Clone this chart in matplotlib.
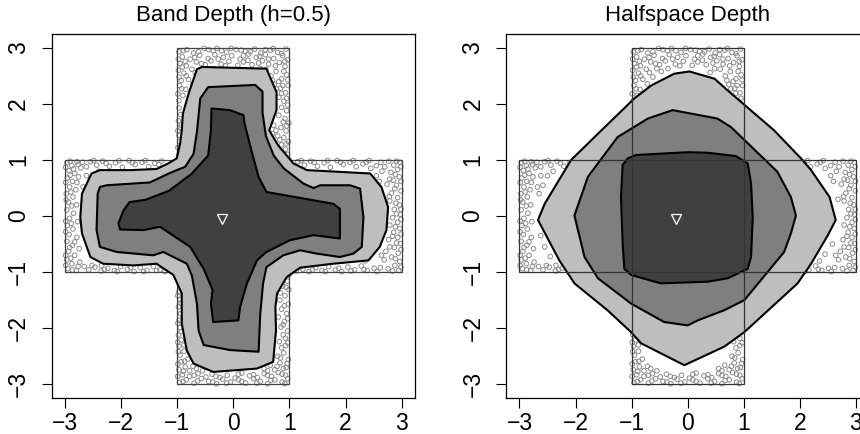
import numpy as np
import matplotlib.pyplot as plt
from matplotlib.patches import Polygon

plt.rcParams['font.family'] = ['Liberation Sans', 'DejaVu Sans']

ticks = [-3, -2, -1, 0, 1, 2, 3]
titles = ['Band Depth (h=0.5)', 'Halfspace Depth']
median_pt = (-0.21, -0.05)

# outline of the cross-shaped support
cross = [(-1, 1), (-1, 3), (1, 3), (1, 1), (3, 1), (3, -1), (1, -1), (1, -3),
         (-1, -3), (-1, -1), (-3, -1), (-3, 1)]
rect_v = [(-1, -3), (1, -3), (1, 3), (-1, 3)]
rect_h = [(-3, -1), (3, -1), (3, 1), (-3, 1)]

# band depth regions (outer -> inner)
band_outer = [(-0.80, 2.18), (-0.90, 1.83), (-0.92, 1.53), (-0.95, 1.29), (-1.01, 1.03),
              (-1.16, 0.94), (-1.37, 0.84), (-1.84, 0.82), (-2.38, 0.82), (-2.53, 0.76),
              (-2.70, 0.40), (-2.73, -0.02), (-2.70, -0.31), (-2.55, -0.73), (-2.32, -0.85),
              (-1.78, -0.88), (-1.37, -0.85), (-1.19, -0.97), (-1.07, -1.05), (-0.92, -1.38),
              (-0.92, -1.92), (-0.83, -2.40), (-0.71, -2.63), (-0.36, -2.78), (0.42, -2.72),
              (0.71, -2.60), (0.76, -2.04), (0.75, -1.62), (0.78, -1.38), (0.95, -1.09),
              (1.19, -0.92), (1.78, -0.85), (2.41, -0.79), (2.61, -0.55), (2.73, -0.25),
              (2.76, 0.16), (2.64, 0.52), (2.44, 0.76), (1.31, 0.82), (1.07, 0.94),
              (0.80, 1.26), (0.64, 1.53), (0.77, 1.89), (0.77, 2.21), (0.59, 2.63),
              (-0.56, 2.66), (-0.65, 2.62)]
band_mid = [(-0.45, 2.30), (0.39, 2.34), (0.52, 2.22), (0.52, 1.85), (0.58, 1.43),
            (0.72, 1.08), (0.90, 0.85), (1.25, 0.58), (1.43, 0.50), (1.55, 0.55),
            (2.08, 0.55), (2.26, 0.49), (2.32, -0.02), (2.29, -0.55), (2.14, -0.67),
            (1.90, -0.73), (1.49, -0.67), (1.19, -0.61), (0.89, -0.70), (0.59, -0.91),
            (0.53, -1.20), (0.48, -1.74), (0.45, -2.42), (-0.06, -2.39), (-0.53, -2.30),
            (-0.62, -2.04), (-0.65, -1.56), (-0.74, -1.06), (-0.83, -0.85), (-1.25, -0.64),
            (-1.43, -0.70), (-2.08, -0.64), (-2.38, -0.55), (-2.44, -0.25), (-2.42, 0.40),
            (-2.38, 0.52), (-2.26, 0.55), (-1.49, 0.60), (-1.13, 0.77), (-0.86, 0.88),
            (-0.71, 1.11), (-0.65, 1.50), (-0.59, 2.10)]
band_inner = [(-0.39, 1.92), (-0.06, 1.89), (0.18, 1.80), (0.20, 1.65), (0.33, 1.14),
              (0.45, 0.70), (0.59, 0.43), (1.78, 0.22), (1.90, 0.13), (1.90, -0.40),
              (1.43, -0.34), (1.01, -0.43), (0.59, -0.64), (0.42, -0.79), (0.24, -1.21),
              (0.12, -1.62), (0.09, -1.86), (-0.36, -1.89), (-0.40, -1.56), (-0.37, -1.32),
              (-0.53, -0.94), (-0.77, -0.55), (-1.31, -0.19), (-1.60, -0.25), (-2.02, -0.24),
              (-2.05, -0.13), (-1.96, 0.10), (-1.85, 0.25), (-1.57, 0.29), (-1.15, 0.45),
              (-0.75, 0.75), (-0.45, 1.08), (-0.40, 1.53)]

# halfspace depth regions (outer -> inner)
half_outer = [(0.03, 2.58), (0.48, 2.45), (0.68, 2.27), (1.54, 1.53), (2.02, 1.03),
              (2.20, 0.82), (2.53, 0.34), (2.64, -0.07), (2.50, -0.34), (2.20, -0.85),
              (1.96, -1.20), (1.01, -2.07), (0.65, -2.33), (-0.06, -2.66), (-0.83, -2.27),
              (-1.01, -2.07), (-1.43, -1.68), (-2.02, -1.20), (-2.29, -0.79), (-2.67, -0.07),
              (-2.55, 0.22), (-2.08, 1.00), (-1.60, 1.47), (-0.95, 2.10), (-0.65, 2.33),
              (-0.24, 2.54)]
half_mid = [(-0.27, 1.89), (0.53, 1.74), (0.77, 1.59), (1.60, 0.79), (1.84, 0.34),
            (1.93, 0.01), (1.84, -0.31), (1.72, -0.64), (1.01, -1.50), (0.65, -1.68),
            (0.18, -1.86), (0.00, -1.95), (-0.42, -1.89), (-1.01, -1.56), (-1.60, -1.11),
            (-1.84, -0.73), (-2.02, 0.01), (-1.78, 0.70), (-1.25, 1.41), (-0.71, 1.74)]
half_inner = [(-0.92, 1.09), (0.00, 1.14), (0.36, 1.13), (0.86, 1.07), (1.07, 0.94),
              (1.13, 0.58), (1.16, -0.02), (1.13, -0.73), (1.07, -0.94), (0.71, -1.11),
              (0.36, -1.17), (-0.48, -1.20), (-1.01, -1.05), (-1.13, -0.94), (-1.16, -0.49),
              (-1.19, 0.34), (-1.16, 0.91), (-1.07, 1.03)]

# sample points (only the parts left uncovered by the regions)
points = [
    # top arm
    (-0.97, 2.93), (-0.83, 2.97), (-0.71, 2.91), (-0.52, 2.99), (-0.36, 2.95), (-0.29, 2.99),
    (-0.12, 2.92), (0.05, 2.97), (0.21, 2.94), (0.38, 2.98), (0.49, 2.91), (0.66, 2.96),
    (0.79, 2.92), (0.94, 2.98), (-0.91, 2.84), (-0.77, 2.80), (-0.60, 2.87), (-0.45, 2.81),
    (-0.33, 2.88), (-0.18, 2.83), (-0.03, 2.86), (0.12, 2.80), (0.27, 2.89), (0.41, 2.83),
    (0.57, 2.88), (0.72, 2.81), (0.88, 2.86), (0.97, 2.79), (-0.95, 2.72), (-0.84, 2.68),
    (-0.66, 2.75), (-0.50, 2.70), (-0.40, 2.77), (-0.22, 2.71), (-0.08, 2.76), (0.08, 2.69),
    (0.18, 2.75), (0.33, 2.70), (0.52, 2.77), (0.63, 2.71), (0.82, 2.74), (0.92, 2.67),
    (-0.98, 2.60), (-0.88, 2.55), (-0.74, 2.62), (-0.62, 2.48), (-0.47, 2.58), (-0.35, 2.63),
    (-0.80, 2.44), (-0.93, 2.42), (0.40, 2.56), (0.58, 2.62), (0.67, 2.50), (0.76, 2.58),
    (0.86, 2.45), (0.95, 2.52), (0.81, 2.40), (-0.96, 2.33), (-0.85, 2.26), (-0.72, 2.36),
    (-0.90, 2.15), (-0.97, 2.06), (0.73, 2.35), (0.84, 2.28), (0.93, 2.20), (0.98, 2.33),
    (0.81, 2.12), (0.90, 2.05), (0.97, 1.98), (-0.97, 1.93), (-0.94, 1.81), (-0.98, 1.70),
    (-0.95, 1.58), (-0.97, 1.44), (-0.96, 1.33), (-0.99, 1.22), (-0.97, 1.10), (0.86, 1.94),
    (0.95, 1.88), (0.81, 1.80), (0.92, 1.74), (0.99, 1.66), (0.72, 1.62), (0.85, 1.58),
    (0.94, 1.52), (0.70, 1.47), (0.79, 1.43), (0.90, 1.40), (0.98, 1.33), (0.86, 1.27),
    (0.93, 1.19), (0.97, 1.10), (0.91, 1.04), (0.99, 1.01),
    (-0.89, 2.95), (-0.62, 2.93), (-0.44, 2.97), (-0.21, 2.95), (-0.04, 2.99), (0.14, 2.96),
    (0.30, 2.93), (0.57, 2.97), (0.71, 2.99), (0.86, 2.90), (-0.98, 2.80), (-0.69, 2.83),
    (-0.27, 2.80), (0.18, 2.86), (0.47, 2.85), (0.63, 2.80), (0.92, 2.76), (-0.86, 2.76),
    (-0.57, 2.72), (-0.14, 2.68), (0.26, 2.78), (0.45, 2.73), (0.75, 2.68), (-0.91, 2.66),
    (-0.68, 2.56), (-0.55, 2.63), (-0.84, 2.50), (-0.97, 2.48), (0.48, 2.63), (0.70, 2.42),
    (0.90, 2.58), (0.97, 2.43), (0.88, 2.33), (0.77, 2.27), (0.95, 2.10), (0.86, 2.19),
    (-0.92, 2.27), (-0.99, 2.18), (-0.93, 1.62), (-0.99, 1.52), (0.89, 1.68), (0.76, 1.53),
    (0.95, 1.61), (0.83, 1.36), (0.94, 1.29), (0.90, 1.12),
    # bottom arm
    (-0.96, -2.97), (-0.84, -2.92), (-0.70, -2.98), (-0.57, -2.90), (-0.44, -2.95), (-0.30, -2.99),
    (-0.19, -2.91), (-0.05, -2.96), (0.09, -2.92), (0.22, -2.98), (0.36, -2.90), (0.48, -2.95),
    (0.61, -2.99), (0.74, -2.92), (0.87, -2.96), (0.97, -2.90), (-0.91, -2.83), (-0.78, -2.86),
    (-0.63, -2.81), (-0.49, -2.87), (-0.38, -2.82), (-0.24, -2.88), (-0.11, -2.84), (0.03, -2.89),
    (0.15, -2.80), (0.29, -2.85), (0.43, -2.88), (0.55, -2.81), (0.68, -2.86), (0.80, -2.79),
    (0.93, -2.84), (-0.97, -2.74), (-0.86, -2.69), (-0.78, -2.76), (-0.93, -2.60), (-0.81, -2.55),
    (-0.66, -2.72), (-0.55, -2.76), (-0.95, -2.48), (-0.88, -2.41), (0.55, -2.72), (0.66, -2.66),
    (0.74, -2.74), (0.83, -2.62), (0.94, -2.70), (0.79, -2.50), (0.90, -2.44), (0.98, -2.56),
    (0.86, -2.35), (-0.97, -2.32), (-0.93, -2.21), (-0.98, -2.12), (-0.95, -1.99), (-0.97, -1.86),
    (-0.94, -1.74), (-0.98, -1.62), (-0.95, -1.49), (-0.97, -1.35), (-0.94, -1.22), (-0.98, -1.11),
    (-0.96, -1.03), (-0.88, -2.30), (0.82, -2.24), (0.93, -2.18), (0.97, -2.05), (0.85, -1.98),
    (0.91, -1.88), (0.80, -1.80), (0.95, -1.74), (0.86, -1.66), (0.98, -1.57), (0.83, -1.50),
    (0.92, -1.42), (0.99, -1.31), (0.88, -1.25), (0.96, -1.16), (0.99, -1.05), (0.89, -2.12),
    (-0.90, -2.95), (-0.64, -2.94), (-0.37, -2.96), (-0.12, -2.98), (0.15, -2.95), (0.42, -2.98),
    (0.67, -2.93), (0.92, -2.99), (-0.99, -2.86), (-0.70, -2.84), (-0.31, -2.86), (0.09, -2.82),
    (0.36, -2.83), (0.61, -2.84), (0.87, -2.82), (-0.89, -2.77), (-0.72, -2.68), (-0.99, -2.64),
    (-0.87, -2.59), (-0.98, -2.42), (0.61, -2.76), (0.78, -2.68), (0.89, -2.72), (0.96, -2.63),
    (0.84, -2.53), (0.93, -2.31), (0.97, -2.26), (-0.99, -2.25), (-0.93, -2.06), (-0.99, -1.91),
    (-0.93, -1.55), (-0.99, -1.42), (0.89, -1.94), (0.97, -1.83), (0.91, -1.60), (0.84, -1.37),
    (0.94, -1.27), (0.87, -1.10),
    # left arm
    (-2.97, 0.95), (-2.88, 0.90), (-2.79, 0.97), (-2.93, 0.81), (-2.83, 0.76), (-2.72, 0.86),
    (-2.96, 0.68), (-2.87, 0.62), (-2.76, 0.70), (-2.92, 0.52), (-2.81, 0.47), (-2.98, 0.40),
    (-2.86, 0.34), (-2.94, 0.25), (-2.80, 0.20), (-2.97, 0.11), (-2.85, 0.05), (-2.92, -0.04),
    (-2.78, -0.10), (-2.96, -0.17), (-2.86, -0.23), (-2.93, -0.33), (-2.79, -0.38), (-2.97, -0.45),
    (-2.87, -0.52), (-2.75, -0.58), (-2.94, -0.63), (-2.83, -0.70), (-2.97, -0.78), (-2.88, -0.85),
    (-2.74, -0.82), (-2.95, -0.94), (-2.80, -0.97), (-2.66, -0.90), (-2.62, 0.88), (-2.69, 0.96),
    (-2.55, 0.97), (-2.44, 0.91), (-2.33, 0.98), (-2.21, 0.89), (-2.10, 0.95), (-1.98, 0.87),
    (-1.86, 0.99), (-1.75, 0.92), (-1.63, 0.96), (-1.51, 0.88), (-1.40, 0.94), (-1.28, 0.98),
    (-2.50, 0.72), (-2.40, 0.80), (-2.58, 0.55), (-2.65, 0.40), (-2.58, -0.96), (-2.47, -0.91),
    (-2.36, -0.98), (-2.24, -0.93), (-2.12, -0.97), (-2.01, -0.90), (-1.89, -0.95), (-1.77, -0.99),
    (-1.66, -0.92), (-1.54, -0.97), (-1.43, -0.90), (-1.31, -0.96), (-1.22, -0.99), (-2.45, -0.72),
    (-2.55, -0.55), (-2.62, -0.35), (-2.35, -0.88),
    (-2.91, 0.98), (-2.99, 0.87), (-2.85, 0.84), (-2.77, 0.92), (-2.91, 0.73), (-2.99, 0.60),
    (-2.79, 0.60), (-2.90, 0.43), (-2.98, 0.29), (-2.88, 0.18), (-2.99, -0.09), (-2.89, -0.13),
    (-2.99, -0.28), (-2.83, -0.46), (-2.92, -0.56), (-2.99, -0.70), (-2.90, -0.75), (-2.77, -0.90),
    (-2.87, -0.96), (-2.99, -0.88), (-2.49, 0.99), (-2.27, 0.94), (-2.04, 0.99), (-1.80, 0.95),
    (-1.57, 0.99), (-1.33, 0.92), (-2.52, -0.88), (-2.30, -0.95), (-2.07, -0.99), (-1.83, -0.92),
    (-1.60, -0.99), (-1.37, -0.97), (-2.62, 0.72), (-2.68, 0.52),
    # right arm
    (2.97, 0.96), (2.86, 0.91), (2.77, 0.98), (2.93, 0.83), (2.81, 0.78), (2.70, 0.88),
    (2.96, 0.70), (2.85, 0.64), (2.74, 0.57), (2.91, 0.55), (2.99, 0.45), (2.82, 0.41),
    (2.93, 0.33), (2.79, 0.27), (2.96, 0.20), (2.87, 0.12), (2.98, 0.03), (2.84, -0.03),
    (2.93, -0.11), (2.79, -0.16), (2.97, -0.22), (2.86, -0.29), (2.93, -0.38), (2.77, -0.42),
    (2.98, -0.49), (2.87, -0.56), (2.72, -0.63), (2.94, -0.66), (2.82, -0.73), (2.97, -0.81),
    (2.69, -0.78), (2.88, -0.88), (2.76, -0.94), (2.95, -0.97), (2.62, -0.92), (2.60, 0.62),
    (2.55, 0.72), (2.45, 0.85), (2.68, 0.30), (2.58, -0.50), (2.45, -0.68), (2.35, -0.80),
    (1.15, 0.97), (1.27, 0.91), (1.38, 0.98), (1.50, 0.89), (1.62, 0.95), (1.73, 0.87),
    (1.85, 0.99), (1.96, 0.92), (2.08, 0.96), (2.19, 0.88), (2.31, 0.93), (2.42, 0.99),
    (2.55, 0.90), (1.12, -0.98), (1.24, -0.95), (1.35, -0.99), (1.47, -0.92), (1.58, -0.97),
    (1.70, -0.90), (1.82, -0.96), (1.93, -0.99), (2.04, -0.91), (2.16, -0.96), (2.28, -0.89),
    (2.39, -0.97), (2.51, -0.93),
    (2.91, 0.98), (2.99, 0.88), (2.89, 0.74), (2.79, 0.66), (2.99, 0.62), (2.88, 0.49),
    (2.78, 0.35), (2.90, 0.23), (2.99, 0.12), (2.91, 0.04), (2.99, -0.06), (2.89, -0.19),
    (2.99, -0.32), (2.84, -0.36), (2.91, -0.48), (2.99, -0.60), (2.79, -0.55), (2.89, -0.76),
    (2.99, -0.91), (2.84, -0.98), (2.65, 0.80), (2.64, -0.70), (1.21, 0.99), (1.44, 0.96),
    (1.68, 0.99), (1.91, 0.96), (2.14, 0.99), (2.37, 0.96), (2.63, 0.96), (1.19, -0.91),
    (1.41, -0.96), (1.64, -0.99), (1.88, -0.93), (2.10, -0.98), (2.33, -0.95), (2.56, -0.99),
]
pts = np.array(points)

fills = ['#bebebe', '#7f7f7f', '#404040']
regions = [[band_outer, band_mid, band_inner], [half_outer, half_mid, half_inner]]

fig = plt.figure(figsize=(8.6, 4.34), dpi=100)
axes = [fig.add_axes([0.0601, 0.0836, 0.4225, 0.837]),
        fig.add_axes([0.5884, 0.0836, 0.4225, 0.837])]

for i, ax in enumerate(axes):
    ax.scatter(pts[:, 0], pts[:, 1], s=11, facecolors='none', edgecolors='#8c8c8c',
               linewidths=0.7, zorder=1)
    if i == 0:
        ax.add_patch(Polygon(cross, closed=True, fill=False, edgecolor='#444444',
                             lw=0.9, zorder=1.5))
    for poly, col in zip(regions[i], fills):
        ax.add_patch(Polygon(poly, closed=True, facecolor=col, edgecolor='black',
                             lw=1.5, joinstyle='round', zorder=2))
    if i == 1:
        for r in (rect_v, rect_h):
            ax.add_patch(Polygon(r, closed=True, fill=False, edgecolor='#333333',
                                 lw=0.9, zorder=3))
    ax.plot(median_pt[0], median_pt[1], marker='v', markersize=7, mfc='none',
            mec='white', mew=0.9, zorder=4)

    ax.set_xlim(-3.24, 3.24)
    ax.set_ylim(-3.24, 3.24)
    ax.set_xticks(ticks)
    ax.set_yticks(ticks)
    ax.tick_params(direction='out', length=7.5, width=0.8, labelsize=16.5)
    ax.tick_params(axis='x', pad=3)
    ax.tick_params(axis='y', pad=8)
    for lab in ax.get_yticklabels():
        lab.set_rotation(90)
        lab.set_va('center')
    for s in ax.spines.values():
        s.set_linewidth(0.9)
    ax.set_title(titles[i], fontsize=16, pad=10)

fig.savefig('out.png', dpi=100)
